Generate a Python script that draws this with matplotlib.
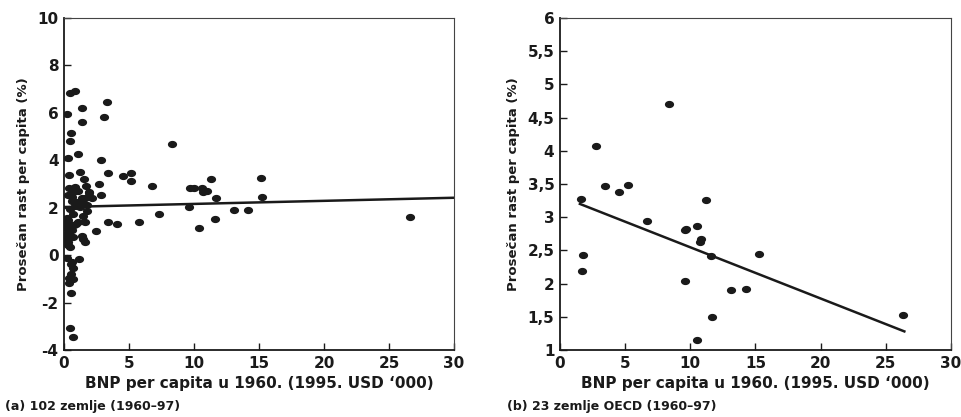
import numpy as np
import matplotlib
matplotlib.use("Agg")
import matplotlib.pyplot as plt
from matplotlib.path import Path

# (a) 102 countries
gdp_a = [0.46, 0.85, 0.22, 1.36, 1.36, 3.10, 3.33, 0.54, 0.44, 1.10, 0.30, 2.82, 8.31,
         1.23, 0.41, 3.42, 4.56, 5.18, 5.18, 1.56, 11.28, 15.13,
         6.77, 2.70, 1.72, 0.36, 0.85, 9.69, 10.03, 10.59, 10.67, 10.97,
         1.10, 0.72, 1.90, 2.85, 0.33, 0.59, 1.62, 2.13, 1.41, 11.67, 15.26,
         0.97, 1.49, 1.74, 0.85, 1.23, 9.64, 0.46, 1.74,
         0.72, 7.33, 13.08, 14.18, 1.49, 0.20, 0.33, 11.62, 26.62,
         1.10, 1.62, 3.36, 4.10, 5.74,
         0.15, 0.46, 0.77, 0.59, 0.25, 0.40, 2.49, 10.38,
         0.20, 0.67, 1.36, 1.59, 1.49, 0.33, 0.46, 0.28,
         0.20, 1.15, 0.51, 0.72, 0.54, 0.72, 0.41, 0.54, 0.49, 0.67,
         0.15, 0.30, 0.55, 0.90, 0.65, 1.00, 1.30, 1.95, 0.25, 0.62, 0.38]
growth_a = [6.82, 6.93, 5.97, 6.19, 5.60, 5.84, 6.44, 5.15, 4.80, 4.28, 4.08, 4.02, 4.68,
            3.50, 3.39, 3.45, 3.35, 3.48, 3.11, 3.21, 3.22, 3.24,
            2.93, 2.98, 2.93, 2.85, 2.87, 2.83, 2.85, 2.85, 2.65, 2.69,
            2.70, 2.67, 2.68, 2.54, 2.52, 2.46, 2.40, 2.40, 2.42, 2.40, 2.47,
            2.25, 2.18, 2.11, 2.07, 2.01, 2.02, 1.93, 1.86,
            1.74, 1.73, 1.90, 1.92, 1.66, 1.58, 1.48, 1.51, 1.61,
            1.41, 1.38, 1.38, 1.31, 1.38,
            1.13, 1.20, 1.26, 1.06, 1.28, 1.00, 1.00, 1.13,
            0.90, 0.78, 0.81, 0.57, 0.68, 0.43, 0.33, 0.55,
            -0.14, -0.18, -0.37, -0.53, -0.81, -1.01, -1.16, -1.61, -3.06, -3.44,
            1.45, 1.35, 1.15, 1.30, 2.30, 2.12, 2.20, 2.60, 0.70, -0.30, -0.95]
fit_a_x = [0, 30]
fit_a_y = [2.03, 2.42]

# (b) 23 OECD countries
gdp_b = [1.59, 1.79, 1.66, 2.79, 3.45, 4.55, 5.22, 8.34, 6.68, 9.67, 9.60, 10.51,
         10.84, 10.74, 11.18, 11.56, 15.24, 9.62, 13.15, 14.30, 11.69, 10.49, 26.34]
growth_b = [3.27, 2.43, 2.19, 4.07, 3.47, 3.38, 3.48, 4.71, 2.94, 2.82, 2.80, 2.86,
            2.67, 2.63, 3.26, 2.41, 2.45, 2.04, 1.90, 1.92, 1.50, 1.15, 1.53]
fit_b_x = [1.53, 26.42]
fit_b_y = [3.20, 1.28]

xticks = [0, 5, 10, 15, 20, 25, 30]
yticks_a = [-4, -2, 0, 2, 4, 6, 8, 10]
yticks_b = [1, 1.5, 2, 2.5, 3, 3.5, 4, 4.5, 5, 5.5, 6]
ylabels_b = ["1", "1,5", "2", "2,5", "3", "3,5", "4", "4,5", "5", "5,5", "6"]

xlabel = "BNP per capita u 1960. (1995. USD \u2018000)"
ylabel = "Prose\u010dan rast per capita (%)"

ink = "#1a1a1a"
plt.rcParams["font.family"] = ["DejaVu Sans"]
plt.rcParams["font.weight"] = "bold"
plt.rcParams["axes.unicode_minus"] = False

circ = Path.unit_circle()
dot = Path(circ.vertices * np.array([1.0, 0.75]), circ.codes)

fig = plt.figure(figsize=(9.61, 4.17), dpi=100)
ax1 = fig.add_axes([0.0666, 0.1607, 0.4058, 0.7961])
ax2 = fig.add_axes([0.5827, 0.1607, 0.4069, 0.7961])

for ax, gx, gy, fx, fy in [(ax1, gdp_a, growth_a, fit_a_x, fit_a_y),
                           (ax2, gdp_b, growth_b, fit_b_x, fit_b_y)]:
    ax.plot(gx, gy, linestyle="none", marker=dot, markersize=5.6, color=ink)
    ax.plot(fx, fy, color=ink, linewidth=1.8)
    ax.set_xlim(0, 30)
    ax.set_xticks(xticks)
    ax.tick_params(direction="in", length=5, width=1, top=False, right=False,
                   labelsize=11, colors=ink, pad=4)
    ax.set_xlabel(xlabel, fontsize=11, fontweight="bold", color=ink, labelpad=4)
    ax.set_ylabel(ylabel, fontsize=9.5, fontweight="bold", color=ink, labelpad=5)
    for s in ["left", "bottom"]:
        ax.spines[s].set_linewidth(1.3)
        ax.spines[s].set_color(ink)
    for s in ["top", "right"]:
        ax.spines[s].set_linewidth(0.8)
        ax.spines[s].set_color("#444444")

ax1.set_ylim(-4, 10)
ax1.set_yticks(yticks_a)
ax2.set_ylim(1, 6)
ax2.set_yticks(yticks_b)
ax2.set_yticklabels(ylabels_b)

fig.text(0.005, 0.025, "(a) 102 zemlje (1960\u201397)", fontsize=9, fontweight="bold",
         color=ink, va="center")
fig.text(0.528, 0.025, "(b) 23 zemlje OECD (1960\u201397)", fontsize=9, fontweight="bold",
         color=ink, va="center")

fig.savefig("out.png", dpi=100)
